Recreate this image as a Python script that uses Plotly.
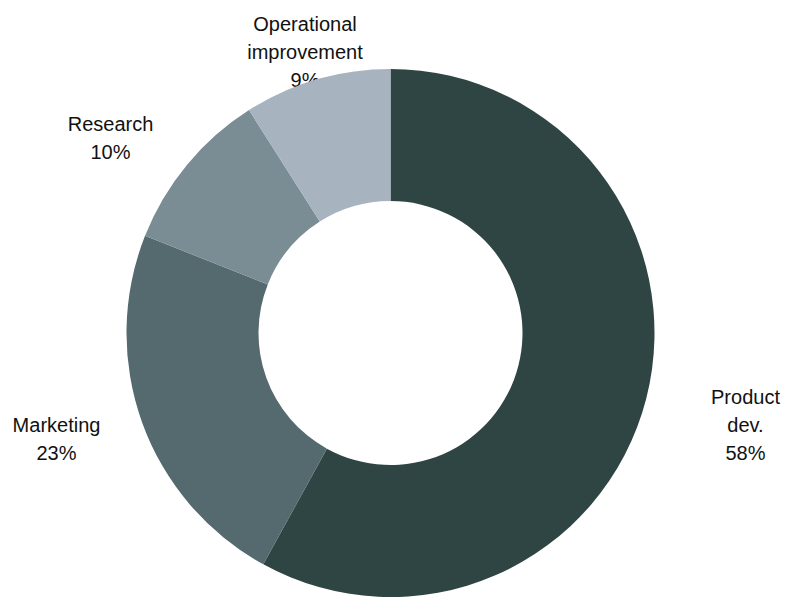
import plotly.graph_objects as go

# Data
categories = ["Product<br>dev.", "Marketing", "Research", "Operational<br>improvement"]
values = [58, 23, 10, 9]

# Styles / layout (page has an 8px body margin, so the figure is offset by 8px)
colors = ["#2f4543", "#546a6e", "#7b8d94", "#a8b3c0"]
label_pos_x = [737.5, 48.5, 102.5, 297]
label_pos_y = [419, 433, 132, 46]
line_gap = 28

W, H = 788, 589
total = sum(values)
label_text = [f"{c}<br>{round(v / total * 100)}%" for c, v in zip(categories, values)]

# Split multi-line labels into individual lines so the line spacing matches
tx, ty, tt = [], [], []
for x0, y0, txt in zip(label_pos_x, label_pos_y, label_text):
    lines = txt.split("<br>")
    n = len(lines)
    for i, ln in enumerate(lines):
        tx.append(x0)
        ty.append(y0 + (i - (n - 1) / 2) * line_gap)
        tt.append(ln)

fig = go.Figure()

# Labels drawn in the cartesian layer (below the pie layer, so the pie can cover them)
fig.add_trace(go.Scatter(
    x=tx, y=ty, mode="text", text=tt,
    textposition="middle center",
    textfont=dict(family="Liberation Sans, Arial, sans-serif", size=20, color="#111111"),
    hoverinfo="skip", showlegend=False,
))

cx, top = 382.5, 61
r = (H - top) / 2
fig.add_trace(go.Pie(
    labels=categories, values=values, hole=0.5, sort=False,
    direction="clockwise", rotation=0,
    marker=dict(colors=colors, line=dict(width=0)),
    textinfo="none", showlegend=False,
    domain=dict(x=[(cx - r) / W, (cx + r) / W], y=[0, (H - top) / H]),
))

fig.update_layout(
    width=W, height=H,
    margin=dict(l=0, r=0, t=0, b=0),
    paper_bgcolor="white", plot_bgcolor="rgba(0,0,0,0)",
    xaxis=dict(range=[0, W], visible=False, fixedrange=True),
    yaxis=dict(range=[H, 0], visible=False, fixedrange=True),
    showlegend=False,
)

fig.write_html("out.html")
